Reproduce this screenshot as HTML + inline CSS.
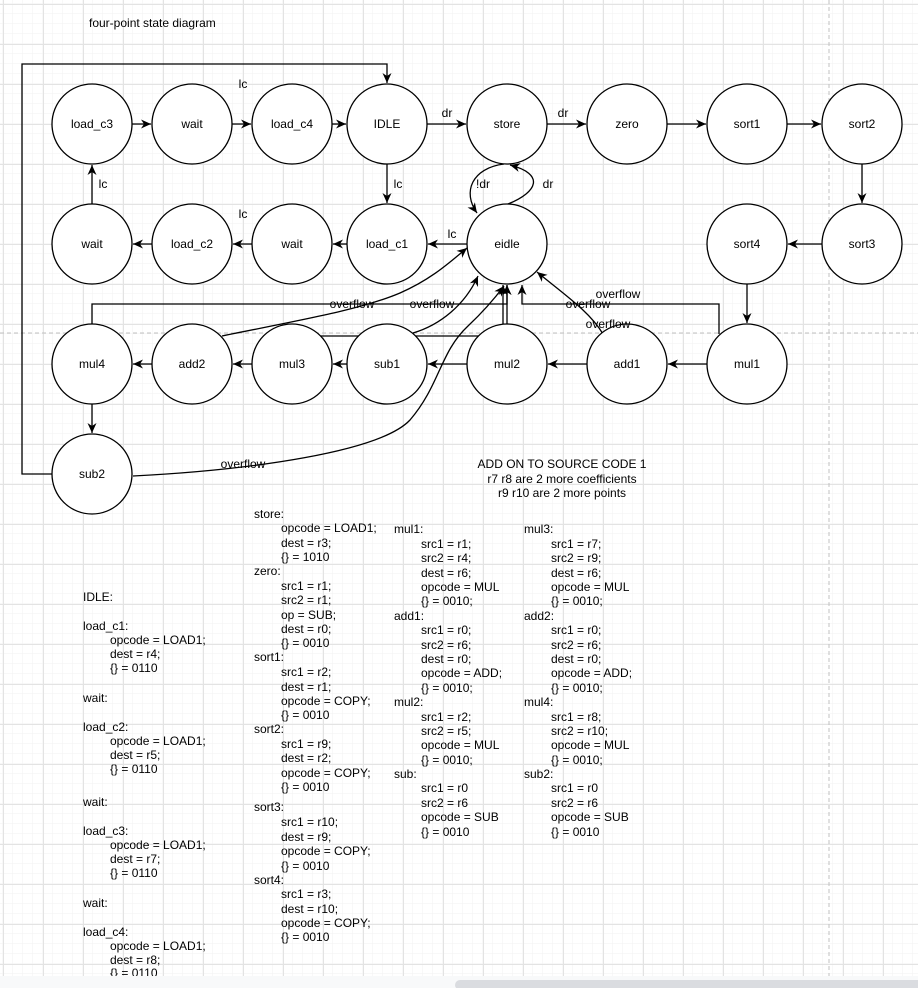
<!DOCTYPE html>
<html><head><meta charset="utf-8"><style>
html,body{margin:0;padding:0;background:#fff;}
svg{display:block;font-family:"Liberation Sans",Arial,sans-serif;font-size:12px;}
</style></head><body>
<svg width="918" height="988" viewBox="0 0 918 988" xmlns="http://www.w3.org/2000/svg">
<defs>
<pattern id="gmin" x="3" y="4" width="10" height="10" patternUnits="userSpaceOnUse">
<path d="M10,0 V10 M0,10 H10" stroke="#f2f2f2" stroke-width="1" fill="none"/>
</pattern>
<pattern id="gmaj" x="3" y="4" width="40" height="40" patternUnits="userSpaceOnUse">
<path d="M0.5,0 V40 M0,0.5 H40" stroke="#e3e3e3" stroke-width="1" fill="none"/>
</pattern>
<marker id="a" markerUnits="userSpaceOnUse" markerWidth="12" markerHeight="12" refX="10" refY="5" orient="auto">
<path d="M0,0.5 L10,5 L0,9.5 L3,5 Z" fill="#000"/>
</marker>
</defs>
<rect width="918" height="988" fill="#fff"/>
<rect width="918" height="988" fill="url(#gmin)"/>
<rect width="918" height="988" fill="url(#gmaj)"/>
<line x1="0" y1="333" x2="918" y2="333" stroke="#c0c0c0" stroke-dasharray="4,3"/>
<line x1="829" y1="0" x2="829" y2="976" stroke="#c0c0c0" stroke-dasharray="4,3"/>

<g fill="none" stroke="#000" stroke-width="1.3">
<path d="M52,474 H22 V64 H387 V83" marker-end="url(#a)"/>
<line x1="132" y1="124" x2="151" y2="124" marker-end="url(#a)"/>
<line x1="232" y1="124" x2="251" y2="124" marker-end="url(#a)"/>
<line x1="332" y1="124" x2="346" y2="124" marker-end="url(#a)"/>
<line x1="427" y1="124" x2="466" y2="124" marker-end="url(#a)"/>
<line x1="547" y1="124" x2="586" y2="124" marker-end="url(#a)"/>
<line x1="667" y1="124" x2="706" y2="124" marker-end="url(#a)"/>
<line x1="787" y1="124" x2="821" y2="124" marker-end="url(#a)"/>
<line x1="862" y1="164" x2="862" y2="203" marker-end="url(#a)"/>
<line x1="822" y1="244" x2="788" y2="244" marker-end="url(#a)"/>
<line x1="747" y1="284" x2="747" y2="323" marker-end="url(#a)"/>
<line x1="707" y1="364" x2="668" y2="364" marker-end="url(#a)"/>
<line x1="587" y1="364" x2="548" y2="364" marker-end="url(#a)"/>
<line x1="467" y1="364" x2="428" y2="364" marker-end="url(#a)"/>
<line x1="347" y1="364" x2="333" y2="364" marker-end="url(#a)"/>
<line x1="252" y1="364" x2="233" y2="364" marker-end="url(#a)"/>
<line x1="152" y1="364" x2="133" y2="364" marker-end="url(#a)"/>
<line x1="92" y1="404" x2="92" y2="433" marker-end="url(#a)"/>
<line x1="387" y1="164" x2="387" y2="203" marker-end="url(#a)"/>
<line x1="467" y1="244" x2="428" y2="244" marker-end="url(#a)"/>
<line x1="347" y1="244" x2="333" y2="244" marker-end="url(#a)"/>
<line x1="252" y1="244" x2="233" y2="244" marker-end="url(#a)"/>
<line x1="152" y1="244" x2="133" y2="244" marker-end="url(#a)"/>
<line x1="92" y1="204" x2="92" y2="165" marker-end="url(#a)"/>
<path d="M504,164 C472,168 462,192 477,213" marker-end="url(#a)"/>
<path d="M508,204 C538,192 545,174 510,165" marker-end="url(#a)"/>
<path d="M92,324 V304 H507 V285" marker-end="url(#a)"/>
<path d="M507,324 V285" marker-end="url(#a)"/>
<path d="M321,336 H503 V285" marker-end="url(#a)"/>
<path d="M719,334 V304 H522 V285" marker-end="url(#a)"/>
<path d="M603,334 C590,312 565,295 537,272" marker-end="url(#a)"/>
<path d="M222,336 C300,320 360,310 400,293 C432,279 450,262 467,248" marker-end="url(#a)"/>
<path d="M413,333 C440,325 465,305 478,276" marker-end="url(#a)"/>
<path d="M133,476 C250,470 380,452 410,420 C440,385 440,352 468,326 C485,310 495,298 504,286" marker-end="url(#a)"/>
</g>

<g fill="#fff" stroke="#000" stroke-width="1.3">
<circle cx="92" cy="124" r="40"/><circle cx="192" cy="124" r="40"/><circle cx="292" cy="124" r="40"/><circle cx="387" cy="124" r="40"/>
<circle cx="507" cy="124" r="40"/><circle cx="627" cy="124" r="40"/><circle cx="747" cy="124" r="40"/><circle cx="862" cy="124" r="40"/>
<circle cx="92" cy="244" r="40"/><circle cx="192" cy="244" r="40"/><circle cx="292" cy="244" r="40"/><circle cx="387" cy="244" r="40"/>
<circle cx="507" cy="244" r="40"/><circle cx="747" cy="244" r="40"/><circle cx="862" cy="244" r="40"/>
<circle cx="92" cy="364" r="40"/><circle cx="192" cy="364" r="40"/><circle cx="292" cy="364" r="40"/><circle cx="387" cy="364" r="40"/>
<circle cx="507" cy="364" r="40"/><circle cx="627" cy="364" r="40"/><circle cx="747" cy="364" r="40"/>
<circle cx="92" cy="474" r="40"/>
</g>

<g text-anchor="middle" fill="#000">
<text x="92" y="128">load_c3</text><text x="192" y="128">wait</text><text x="292" y="128">load_c4</text><text x="387" y="128">IDLE</text>
<text x="507" y="128">store</text><text x="627" y="128">zero</text><text x="747" y="128">sort1</text><text x="862" y="128">sort2</text>
<text x="92" y="248">wait</text><text x="192" y="248">load_c2</text><text x="292" y="248">wait</text><text x="387" y="248">load_c1</text>
<text x="507" y="248">eidle</text><text x="747" y="248">sort4</text><text x="862" y="248">sort3</text>
<text x="92" y="368">mul4</text><text x="192" y="368">add2</text><text x="292" y="368">mul3</text><text x="387" y="368">sub1</text>
<text x="507" y="368">mul2</text><text x="627" y="368">add1</text><text x="747" y="368">mul1</text>
<text x="92" y="478">sub2</text>
<text x="243" y="88">lc</text><text x="398" y="188">lc</text><text x="103" y="188">lc</text><text x="243" y="218">lc</text><text x="452" y="238">lc</text>
<text x="447" y="117">dr</text><text x="563" y="117">dr</text><text x="483" y="188">!dr</text><text x="548" y="188">dr</text>
<text x="352" y="308">overflow</text><text x="432" y="308">overflow</text><text x="618" y="298">overflow</text>
<text x="588" y="308">overflow</text><text x="608" y="328">overflow</text><text x="243" y="468">overflow</text>
<text x="562" y="468">ADD ON TO SOURCE CODE 1</text><text x="562" y="483">r7 r8 are 2 more coefficients</text><text x="562" y="497">r9 r10 are 2 more points</text>
</g>
<text x="89" y="27">four-point state diagram</text>

<g fill="#000">
<text x="83" y="601">IDLE:</text>
<text x="83" y="630">load_c1:</text><text x="110" y="644">opcode = LOAD1;</text><text x="110" y="658">dest = r4;</text><text x="110" y="672">{} = 0110</text>
<text x="83" y="702">wait:</text>
<text x="83" y="731">load_c2:</text><text x="110" y="745">opcode = LOAD1;</text><text x="110" y="759">dest = r5;</text><text x="110" y="773">{} = 0110</text>
<text x="83" y="806">wait:</text>
<text x="83" y="835">load_c3:</text><text x="110" y="849">opcode = LOAD1;</text><text x="110" y="863">dest = r7;</text><text x="110" y="877">{} = 0110</text>
<text x="83" y="907">wait:</text>
<text x="83" y="936">load_c4:</text><text x="110" y="950">opcode = LOAD1;</text><text x="110" y="964">dest = r8;</text><text x="110" y="977">{} = 0110</text>

<text x="254" y="518">store:</text><text x="281" y="532">opcode = LOAD1;</text><text x="281" y="547">dest = r3;</text><text x="281" y="561">{} = 1010</text>
<text x="254" y="575">zero:</text><text x="281" y="590">src1 = r1;</text><text x="281" y="604">src2 = r1;</text><text x="281" y="619">op = SUB;</text><text x="281" y="633">dest = r0;</text><text x="281" y="647">{} = 0010</text>
<text x="254" y="661">sort1:</text><text x="281" y="676">src1 = r2;</text><text x="281" y="691">dest = r1;</text><text x="281" y="705">opcode = COPY;</text><text x="281" y="719">{} = 0010</text>
<text x="254" y="733">sort2:</text><text x="281" y="748">src1 = r9;</text><text x="281" y="762">dest = r2;</text><text x="281" y="777">opcode = COPY;</text><text x="281" y="791">{} = 0010</text>
<text x="254" y="811">sort3:</text><text x="281" y="826">src1 = r10;</text><text x="281" y="841">dest = r9;</text><text x="281" y="855">opcode = COPY;</text><text x="281" y="870">{} = 0010</text>
<text x="254" y="884">sort4:</text><text x="281" y="898">src1 = r3;</text><text x="281" y="913">dest = r10;</text><text x="281" y="927">opcode = COPY;</text><text x="281" y="941">{} = 0010</text>

<text x="394" y="533">mul1:</text><text x="421" y="548">src1 = r1;</text><text x="421" y="562">src2 = r4;</text><text x="421" y="577">dest = r6;</text><text x="421" y="591">opcode = MUL</text><text x="421" y="605">{} = 0010;</text>
<text x="394" y="620">add1:</text><text x="421" y="634">src1 = r0;</text><text x="421" y="649">src2 = r6;</text><text x="421" y="663">dest = r0;</text><text x="421" y="677">opcode = ADD;</text><text x="421" y="692">{} = 0010;</text>
<text x="394" y="706">mul2:</text><text x="421" y="721">src1 = r2;</text><text x="421" y="735">src2 = r5;</text><text x="421" y="749">opcode = MUL</text><text x="421" y="764">{} = 0010;</text>
<text x="394" y="778">sub:</text><text x="421" y="792">src1 = r0</text><text x="421" y="807">src2 = r6</text><text x="421" y="821">opcode = SUB</text><text x="421" y="836">{} = 0010</text>

<text x="524" y="533">mul3:</text><text x="551" y="548">src1 = r7;</text><text x="551" y="562">src2 = r9;</text><text x="551" y="577">dest = r6;</text><text x="551" y="591">opcode = MUL</text><text x="551" y="605">{} = 0010;</text>
<text x="524" y="620">add2:</text><text x="551" y="634">src1 = r0;</text><text x="551" y="649">src2 = r6;</text><text x="551" y="663">dest = r0;</text><text x="551" y="677">opcode = ADD;</text><text x="551" y="692">{} = 0010;</text>
<text x="524" y="706">mul4:</text><text x="551" y="721">src1 = r8;</text><text x="551" y="735">src2 = r10;</text><text x="551" y="749">opcode = MUL</text><text x="551" y="764">{} = 0010;</text>
<text x="524" y="778">sub2:</text><text x="551" y="792">src1 = r0</text><text x="551" y="807">src2 = r6</text><text x="551" y="821">opcode = SUB</text><text x="551" y="836">{} = 0010</text>
</g>

<rect x="0" y="976" width="918" height="12" fill="#f8f9fa"/>
<rect x="455" y="980" width="470" height="10" rx="5" fill="#dadce0"/>
</svg>
</body></html>
